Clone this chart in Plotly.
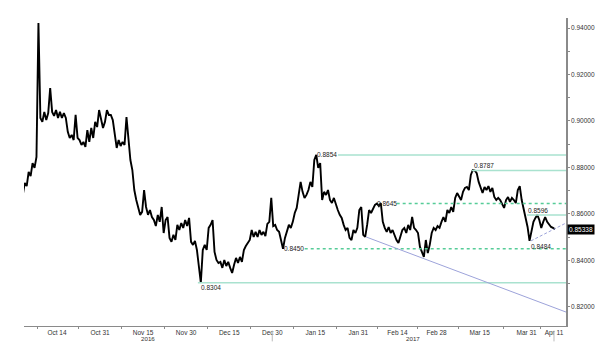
import numpy as np
import pandas as pd
import plotly.graph_objects as go

# ---------------- data ----------------
start_date = "2016-10-03"
n_days = 137
dates = pd.bdate_range(start_date, periods=n_days)

# two readings per business day (first half / second half of the session)
price_first = [
    0.8690, 0.8733, 0.8781, 0.8819, 0.8845, 0.9013, 0.9039, 0.9034, 0.9039, 0.9047,
    0.9039, 0.9034, 0.8953, 0.8940, 0.9026, 0.8918, 0.8910, 0.8961, 0.8970, 0.8996,
    0.9047, 0.8970, 0.9047, 0.9026, 0.8931, 0.8918, 0.8910, 0.9017, 0.8832, 0.8703,
    0.8630, 0.8609, 0.8630, 0.8617, 0.8574, 0.8596, 0.8630, 0.8574, 0.8497, 0.8510,
    0.8553, 0.8561, 0.8574, 0.8583, 0.8467, 0.8445, 0.8304, 0.8467, 0.8540, 0.8574,
    0.8402, 0.8394, 0.8402, 0.8394, 0.8346, 0.8411, 0.8415, 0.8445, 0.8475, 0.8531,
    0.8523, 0.8531, 0.8523, 0.8557, 0.8669, 0.8553, 0.8523, 0.8450, 0.8531, 0.8540,
    0.8604, 0.8682, 0.8695, 0.8682, 0.8738, 0.8832, 0.8798, 0.8660, 0.8682, 0.8660,
    0.8669, 0.8617, 0.8583, 0.8531, 0.8497, 0.8531, 0.8540, 0.8630, 0.8501, 0.8617,
    0.8626, 0.8645, 0.8647, 0.8540, 0.8544, 0.8531, 0.8488, 0.8501, 0.8540, 0.8553,
    0.8587, 0.8531, 0.8458, 0.8415, 0.8432, 0.8518, 0.8531, 0.8540, 0.8587, 0.8617,
    0.8630, 0.8669, 0.8677, 0.8695, 0.8716, 0.8768, 0.8787, 0.8738, 0.8690, 0.8703,
    0.8695, 0.8673, 0.8669, 0.8639, 0.8660, 0.8652, 0.8660, 0.8703, 0.8660, 0.8574,
    0.8484, 0.8566, 0.8596, 0.8540, 0.8587, 0.8553, 0.8540,
]
price_second = [
    0.8682, 0.8720, 0.8763, 0.8798, 0.9421, 0.8996, 0.9004, 0.9142, 0.9022, 0.9013,
    0.9013, 0.9013, 0.8927, 0.8918, 0.8927, 0.8897, 0.8888, 0.8910, 0.8927, 0.8974,
    0.9013, 0.8996, 0.9026, 0.9004, 0.8884, 0.8892, 0.8897, 0.8918, 0.8789, 0.8660,
    0.8596, 0.8703, 0.8596, 0.8587, 0.8548, 0.8566, 0.8518, 0.8587, 0.8480, 0.8488,
    0.8531, 0.8540, 0.8548, 0.8480, 0.8484, 0.8381, 0.8445, 0.8445, 0.8553, 0.8437,
    0.8389, 0.8368, 0.8376, 0.8368, 0.8381, 0.8389, 0.8394, 0.8462, 0.8488, 0.8501,
    0.8501, 0.8510, 0.8505, 0.8566, 0.8548, 0.8531, 0.8488, 0.8497, 0.8553, 0.8566,
    0.8626, 0.8738, 0.8669, 0.8703, 0.8716, 0.8854, 0.8819, 0.8695, 0.8703, 0.8647,
    0.8639, 0.8596, 0.8553, 0.8540, 0.8488, 0.8518, 0.8617, 0.8510, 0.8553, 0.8604,
    0.8639, 0.8634, 0.8566, 0.8523, 0.8518, 0.8505, 0.8475, 0.8531, 0.8518, 0.8531,
    0.8540, 0.8518, 0.8437, 0.8488, 0.8467, 0.8540, 0.8548, 0.8566, 0.8566, 0.8604,
    0.8609, 0.8690, 0.8660, 0.8712, 0.8703, 0.8789, 0.8776, 0.8712, 0.8716, 0.8720,
    0.8712, 0.8660, 0.8660, 0.8626, 0.8673, 0.8669, 0.8647, 0.8720, 0.8617, 0.8544,
    0.8531, 0.8583, 0.8574, 0.8566, 0.8566, 0.8544, 0.85338,
]

tick_labels = ["Oct 14", "Oct 31", "Nov 15", "Nov 30", "Dec 15", "Dec 30", "Jan 15",
               "Jan 31", "Feb 14", "Feb 28", "Mar 15", "Mar 31", "Apr 11"]
tick_dates = ["2016-10-14", "2016-10-31", "2016-11-15", "2016-11-30", "2016-12-15",
              "2016-12-30", "2017-01-15", "2017-01-31", "2017-02-14", "2017-02-28",
              "2017-03-15", "2017-03-31", "2017-04-11"]
year_labels = ["2016", "2017"]
year_end_date = "2016-12-30"
last_date = "2017-04-11"

y_tick_values = [0.82, 0.84, 0.86, 0.88, 0.90, 0.92, 0.94]

# support / resistance levels
level_values = [0.8854, 0.8787, 0.8645, 0.8450, 0.8304, 0.8596]
level_labels = ["0.8854", "0.8787", "0.8645", "0.8450", "0.8304", "0.8596"]
low_label_value = 0.8484
last_price = 0.85338
trend_start_value = 0.8501
trend_end_value = 0.8178
short_trend_end_value = 0.8561

# ---------------- layout config ----------------
X_MIN, X_MAX = 0.56, 139.07
Y_MIN, Y_MAX = 0.8118, 0.9443
FONT = "Liberation Sans"
SOLID_GREEN = "#a9e2cf"
DASH_GREEN = "#56cc98"
TREND_BLUE = "#9da3da"
# per level: label anchor index, line start index, style, label vertical placement
level_style = [
    dict(lx=75.2, x0=80.8, dash="solid", color=SOLID_GREEN, pos="middle"),
    dict(lx=115.2, x0=115.0, dash="solid", color=SOLID_GREEN, pos="bottom"),
    dict(lx=90.5, x0=95.8, dash="3px,3px", color=DASH_GREEN, pos="middle"),
    dict(lx=66.8, x0=72.3, dash="3px,3px", color=DASH_GREEN, pos="middle"),
    dict(lx=45.6, x0=45.0, dash="solid", color=SOLID_GREEN, pos="top"),
    dict(lx=129.1, x0=129.1, dash="solid", color=SOLID_GREEN, pos="bottom"),
]

day_idx = np.arange(n_days)
xs = np.column_stack([day_idx - 0.25, day_idx + 0.25]).ravel()
ys = np.column_stack([price_first, price_second]).ravel()

tick_idx = [int(dates.searchsorted(pd.Timestamp(d))) for d in tick_dates]
minor_idx = [tick_idx[0] - 5] + [(a + b) / 2 for a, b in zip(tick_idx[:-1], tick_idx[1:])]
year_break = int(dates.searchsorted(pd.Timestamp(year_end_date)))
end_idx = int(dates.searchsorted(pd.Timestamp(last_date)))

fig = go.Figure()
fig.add_trace(go.Scatter(x=xs, y=ys, mode="lines",
                         line=dict(color="black", width=1.9), hoverinfo="skip",
                         showlegend=False))

shapes = []
annotations = []
for val, lab, st in zip(level_values, level_labels, level_style):
    shapes.append(dict(type="line", xref="x", yref="y", x0=st["x0"], x1=X_MAX,
                       y0=val, y1=val,
                       line=dict(color=st["color"], width=1.5, dash=st["dash"])))
    annotations.append(dict(x=st["lx"], y=val, xref="x", yref="y", text=lab,
                            showarrow=False, xanchor="left", yanchor=st["pos"],
                            font=dict(family=FONT, size=6.5, color="#222"),
                            borderpad=0))

annotations.append(dict(x=129.9, y=low_label_value, xref="x", yref="y",
                        text=f"{low_label_value:.4f}", showarrow=False,
                        xanchor="left", yanchor="top", yshift=-1,
                        font=dict(family=FONT, size=6.5, color="#222"), borderpad=0))

# long down trend line
shapes.append(dict(type="line", xref="x", yref="y", x0=88, x1=X_MAX,
                   y0=trend_start_value, y1=trend_end_value,
                   line=dict(color=TREND_BLUE, width=1)))
# short dashed up trend
shapes.append(dict(type="line", xref="x", yref="y", x0=130.1, x1=X_MAX,
                   y0=low_label_value, y1=short_trend_end_value,
                   line=dict(color=TREND_BLUE, width=1, dash="3px,2px")))

# year separators below axis
for xi in [year_break, end_idx]:
    shapes.append(dict(type="line", xref="x", yref="paper", x0=xi, x1=xi,
                       y0=-0.015, y1=-0.05, line=dict(color="#bbbbbb", width=1)))

for lab, (a, b) in zip(year_labels, [(X_MIN, year_break), (year_break, end_idx)]):
    annotations.append(dict(x=(a + b) / 2, y=-0.041, xref="x", yref="paper", text=lab,
                            showarrow=False, xanchor="center", yanchor="middle",
                            font=dict(family=FONT, size=6.2, color="#333"),
                            borderpad=0))

# last price tag
annotations.append(dict(x=1, y=last_price, xref="paper", yref="y",
                        text=f"{last_price:.5f}", showarrow=False, xanchor="left",
                        yanchor="middle", xshift=1, bgcolor="black",
                        font=dict(family=FONT, size=6.5, color="white"), borderpad=1))

fig.update_layout(
    width=600, height=343,
    margin=dict(l=24, r=34, t=18, b=17, autoexpand=False),
    paper_bgcolor="white", plot_bgcolor="white",
    shapes=shapes, annotations=annotations,
    showlegend=False,
    xaxis=dict(range=[X_MIN, X_MAX], showgrid=False, zeroline=False, automargin=False,
               showline=True, linecolor="#8a8a8a", linewidth=1,
               tickmode="array", tickvals=tick_idx, ticktext=tick_labels,
               ticks="",
               tickfont=dict(family=FONT, size=6.5, color="#333"),
               minor=dict(tickmode="array", tickvals=minor_idx, ticks="outside",
                          ticklen=2, tickcolor="#8a8a8a")),
    yaxis=dict(range=[Y_MIN, Y_MAX], side="right", showgrid=False, zeroline=False,
               automargin=False,
               showline=True, linecolor="#8a8a8a", linewidth=1.5,
               tickmode="array", tickvals=y_tick_values,
               ticktext=[f"{v:.5f}" for v in y_tick_values],
               ticks="outside", ticklen=2, tickcolor="#8a8a8a",
               tickfont=dict(family=FONT, size=6.5, color="#333"),
               minor=dict(dtick=0.01, ticks="outside", ticklen=2, tickcolor="#8a8a8a")),
)

fig.write_html("out.html")
